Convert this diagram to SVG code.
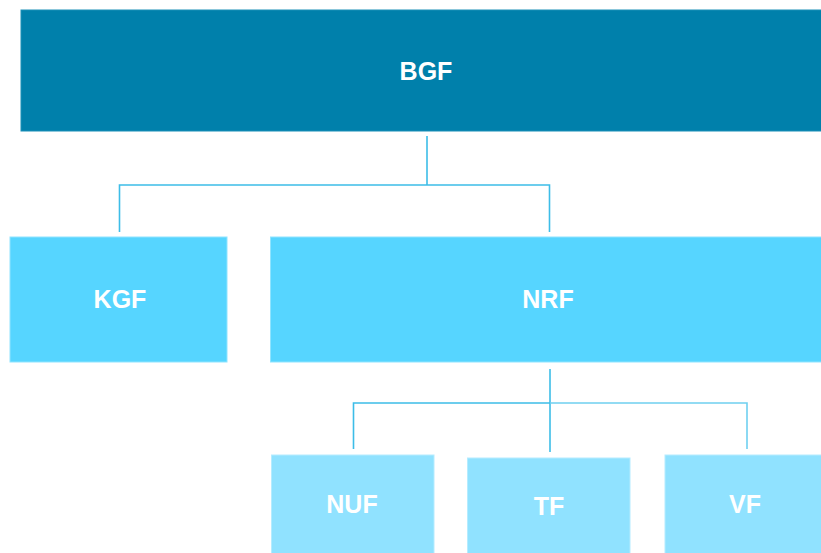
<svg xmlns="http://www.w3.org/2000/svg" width="821" height="553" viewBox="0 0 821 553">
<style>
.lbl{font-family:"Liberation Sans",Arial,sans-serif;font-weight:bold;font-size:25px;fill:#ffffff;text-anchor:middle;dominant-baseline:central}
.top{fill:#0080AB;stroke:#1a8fb8;stroke-width:1}
.mid{fill:#56D5FF;stroke:#8fe4ff;stroke-width:1}
.low{fill:#90E2FF;stroke:#b5ecff;stroke-width:1}
.con{fill:none;stroke:#3DBDE8;stroke-width:1.6}
</style>
<rect width="821" height="553" fill="#ffffff"/>
<g id="connectors">
<path class="con" d="M427,136 V185 M119.5,232 V185 H549.5 V232"/>
<path class="con" d="M550,369 V452 M353.5,449 V403 H550"/>
<path class="con" style="stroke:#6FD0F0" d="M550,403 H747 V449"/>
</g>
<g id="BGF"><rect class="top" x="21" y="10" width="801" height="121"/><text class="lbl" x="426" y="71">BGF</text></g>
<g id="KGF"><rect class="mid" x="10" y="237" width="217" height="125"/><text class="lbl" x="120" y="299">KGF</text></g>
<g id="NRF"><rect class="mid" x="270.5" y="237" width="551" height="125"/><text class="lbl" x="548" y="299">NRF</text></g>
<g id="NUF"><rect class="low" x="271.5" y="455" width="162.5" height="99"/><text class="lbl" x="352" y="504">NUF</text></g>
<g id="TF"><rect class="low" x="467.5" y="458" width="162.5" height="96"/><text class="lbl" x="549" y="506">TF</text></g>
<g id="VF"><rect class="low" x="665" y="455" width="157" height="99"/><text class="lbl" x="745" y="504">VF</text></g>
</svg>
